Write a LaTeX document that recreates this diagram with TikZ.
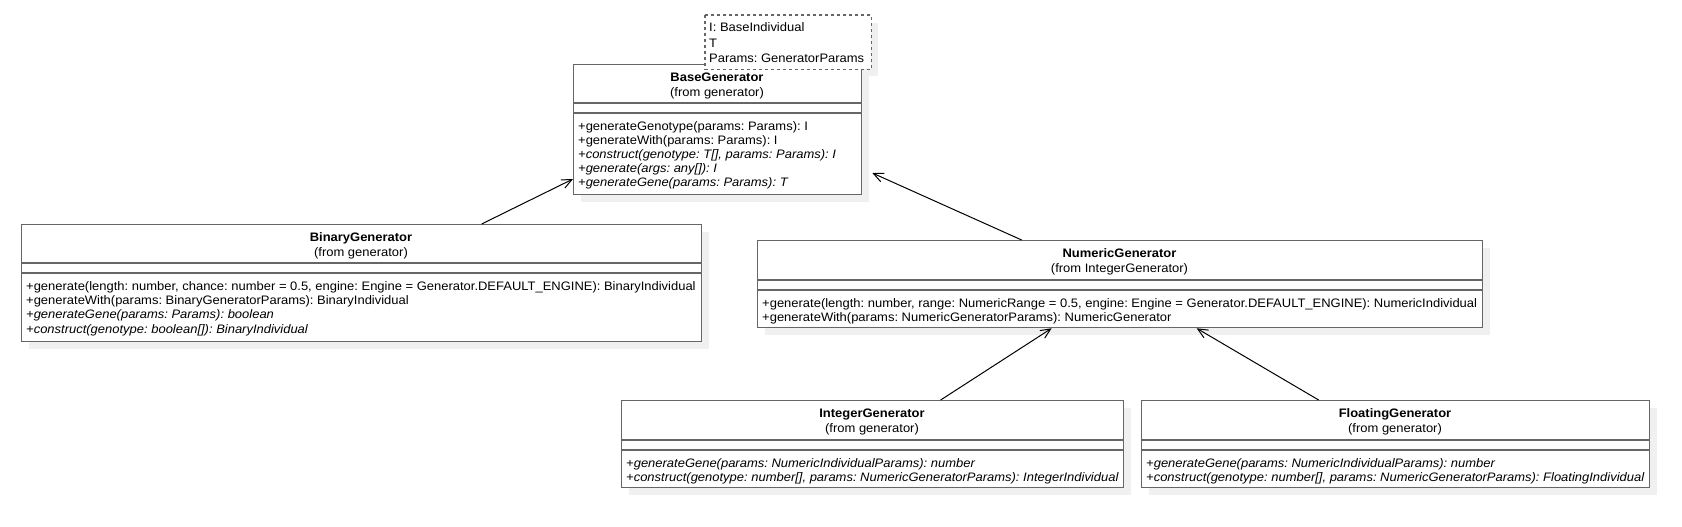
\documentclass[tikz,border=0pt]{standalone}
\usepackage{fontspec}
\setmainfont[FakeStretch=1.055]{Liberation Sans}
\frenchspacing
\usetikzlibrary{arrows.meta,shadows}
\newcommand{\umlfont}{\fontsize{12.3}{14.4}\selectfont}
\tikzset{
  classbox/.style={draw=black!60, line width=1.3pt, fill=white, anchor=north west, inner sep=0pt,
    drop shadow={shadow xshift=7pt, shadow yshift=-7pt, fill=black!6, opacity=1}},
  notebox/.style={classbox, dash pattern=on 3pt off 3pt},
  noteframe/.style={draw=black!60, line width=1.3pt, fill=white, dash pattern=on 3pt off 3pt},
  compart/.style={draw=black!60, line width=1.3pt},
  classname/.style={font=\umlfont\bfseries, anchor=base, inner sep=0pt},
  classfrom/.style={font=\umlfont, anchor=base, inner sep=0pt},
  method/.style={font=\umlfont, anchor=base west, inner sep=0pt},
  inherit/.style={draw=black, line width=1pt, -{Straight Barb[length=10pt,width=9pt]}},
}
\begin{document}
\begin{tikzpicture}[x=1pt, y=-1pt]
  \useasboundingbox (0,0) rectangle (1682,527);
  % type parameters (shadow first, frame again over the class)
  \node[notebox, minimum width=165pt, minimum height=53pt] (params) at (705,15) {};
  % BaseGenerator
  \node[classbox, minimum width=288pt, minimum height=130pt] (base) at (573,64) {};
  \path[noteframe] (params.north west) rectangle (params.south east);
  \foreach \t [count=\i from 0] in {I: BaseIndividual, T, Params: GeneratorParams}
    \node[method] (params-t\i) at (709,32+15.5*\i) {\t};
  \draw[compart] ([yshift=-39pt]base.north west) -- ([yshift=-39pt]base.north east)
    ([yshift=-49pt]base.north west) -- ([yshift=-49pt]base.north east);
  \node[classname] (base-name) at (717,81.6) {BaseGenerator};
  \node[classfrom] (base-from) at (717,96.7) {(from generator)};
  \foreach \m [count=\i from 0] in {
      {+generateGenotype(params: Params): I},
      {+generateWith(params: Params): I},
      {\itshape +construct(genotype: T[], params: Params): I},
      {\itshape +generate(args: any[]): I},
      {\itshape +generateGene(params: Params): T}}
    \node[method] (base-m\i) at (578,130+14.2*\i) {\m};
  % BinaryGenerator
  \node[classbox, minimum width=680pt, minimum height=117pt] (binary) at (21,224) {};
  \draw[compart] ([yshift=-39pt]binary.north west) -- ([yshift=-39pt]binary.north east)
    ([yshift=-49pt]binary.north west) -- ([yshift=-49pt]binary.north east);
  \node[classname] (binary-name) at (361,241.7) {BinaryGenerator};
  \node[classfrom] (binary-from) at (361,256.7) {(from generator)};
  \foreach \m [count=\i from 0] in {
      {+generate(length: number, chance: number = 0.5, engine: Engine = Generator.DEFAULT\_ENGINE): BinaryIndividual},
      {+generateWith(params: BinaryGeneratorParams): BinaryIndividual},
      {\itshape +generateGene(params: Params): boolean},
      {\itshape +construct(genotype: boolean[]): BinaryIndividual}}
    \node[method] (binary-m\i) at (26,290+14.4*\i) {\m};
  % NumericGenerator
  \node[classbox, minimum width=725pt, minimum height=87pt] (numeric) at (757,240) {};
  \draw[compart] ([yshift=-40pt]numeric.north west) -- ([yshift=-40pt]numeric.north east)
    ([yshift=-50pt]numeric.north west) -- ([yshift=-50pt]numeric.north east);
  \node[classname] (numeric-name) at (1119.5,257.7) {NumericGenerator};
  \node[classfrom] (numeric-from) at (1119.5,272.7) {(from IntegerGenerator)};
  \foreach \m [count=\i from 0] in {
      {+generate(length: number, range: NumericRange = 0.5, engine: Engine = Generator.DEFAULT\_ENGINE): NumericIndividual},
      {+generateWith(params: NumericGeneratorParams): NumericGenerator}}
    \node[method] (numeric-m\i) at (762,307+14.4*\i) {\m};
  % IntegerGenerator
  \node[classbox, minimum width=502pt, minimum height=87pt] (integer) at (621,400) {};
  \draw[compart] ([yshift=-40pt]integer.north west) -- ([yshift=-40pt]integer.north east)
    ([yshift=-50pt]integer.north west) -- ([yshift=-50pt]integer.north east);
  \node[classname] (integer-name) at (872,417.7) {IntegerGenerator};
  \node[classfrom] (integer-from) at (872,432.7) {(from generator)};
  \foreach \m [count=\i from 0] in {
      {\itshape +generateGene(params: NumericIndividualParams): number},
      {\itshape +construct(genotype: number[], params: NumericGeneratorParams): IntegerIndividual}}
    \node[method] (integer-m\i) at (626,467+14.4*\i) {\m};
  % FloatingGenerator
  \node[classbox, minimum width=508pt, minimum height=87pt] (floating) at (1141,400) {};
  \draw[compart] ([yshift=-40pt]floating.north west) -- ([yshift=-40pt]floating.north east)
    ([yshift=-50pt]floating.north west) -- ([yshift=-50pt]floating.north east);
  \node[classname] (floating-name) at (1395,417.7) {FloatingGenerator};
  \node[classfrom] (floating-from) at (1395,432.7) {(from generator)};
  \foreach \m [count=\i from 0] in {
      {\itshape +generateGene(params: NumericIndividualParams): number},
      {\itshape +construct(genotype: number[], params: NumericGeneratorParams): FloatingIndividual}}
    \node[method] (floating-m\i) at (1146,467+14.4*\i) {\m};
  % generalisations
  \draw[inherit] ([xshift=120pt]binary.north) -- ([yshift=-115pt]base.north west);
  \draw[inherit] ([xshift=-98.5pt]numeric.north) -- ([xshift=10pt,yshift=-109pt]base.north east);
  \draw[inherit] ([xshift=68pt]integer.north) -- ([xshift=-68.5pt]numeric.south);
  \draw[inherit] ([xshift=-77pt]floating.north) -- ([xshift=76.5pt]numeric.south);
\end{tikzpicture}
\end{document}
